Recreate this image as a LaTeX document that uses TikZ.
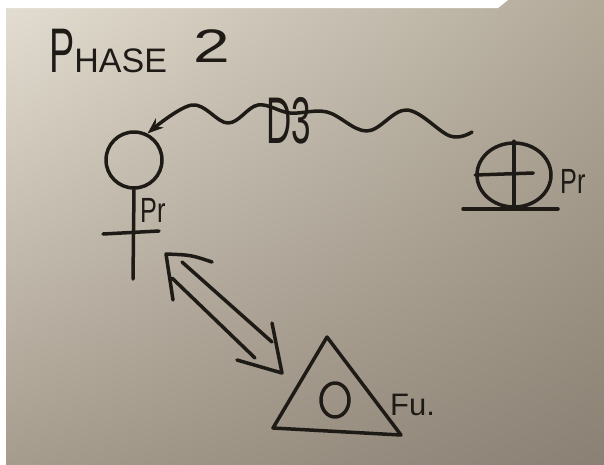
\documentclass[tikz,border=0pt]{standalone}
\usepackage{fontspec}
\setmainfont{Liberation Sans}
\usetikzlibrary{arrows.meta,shapes.geometric,calc,shadings}
\definecolor{ink}{RGB}{30,26,22}
\definecolor{paperUL}{RGB}{228,222,210}
\definecolor{paperUR}{RGB}{178,169,153}
\definecolor{paperLL}{RGB}{166,156,142}
\definecolor{paperLR}{RGB}{138,129,116}
\begin{document}
\begin{tikzpicture}[x=1pt,y=-1pt,
  pen/.style={draw=ink, line width=3.5pt, line cap=round, line join=round},
  lbl/.style={text=ink, inner sep=0pt}]
\useasboundingbox (0,0) rectangle (604,464);
\fill[white] (0,0) rectangle (604,464);
\shade[upper left=paperUL, upper right=paperUR, lower left=paperLL, lower right=paperLR]
  (6,0) rectangle (604,464);
\fill[white] (6,0) -- (508,0) -- (498,8) -- (6,8) -- cycle;

% title
\node[lbl, anchor=base west] (title) at (49,72)
  {{\fontsize{63}{63}\selectfont\scalebox{0.6}[1]{P}}{\fontsize{34}{34}\selectfont HASE}\hspace{26pt}\raisebox{10pt}{\fontsize{47}{47}\selectfont\scalebox{1.4}[1]{2}}};

% left symbol
\node[pen, circle, minimum size=56pt, inner sep=0pt] (venus) at (134,160) {};
\coordinate (vbot) at (133,279);
\draw[pen] (venus.south) -- (vbot);
\coordinate (barL) at (103,234);
\coordinate (barR) at (159,231);
\draw[pen] (barL) -- (barR);
\node[lbl, anchor=base west, font=\fontsize{35}{35}\selectfont] (prL) at (140,222) {\scalebox{0.72}[1]{Pr}};

% right symbol
\node[pen, ellipse, minimum width=74pt, minimum height=64pt, inner sep=0pt] (mars) at (514,175) {};
\draw[pen] (mars.north) -- (mars.south);
\draw[pen] (mars.west) -- ++(58,-2);
\coordinate (baseL) at (463,209);
\coordinate (baseR) at (558,209);
\draw[pen] (baseL) -- (baseR);
\node[lbl, anchor=base west, font=\fontsize{35}{35}\selectfont] (prR) at (560,193) {\scalebox{0.72}[1]{Pr}};

% wavy connector
\coordinate (wend) at (472,132);
\draw[pen, -{Stealth[open, length=16pt, width=12pt, line width=2.5pt]}]
  plot[smooth, tension=0.6] coordinates {(wend) (450,136) (407,110) (367,131) (327,112) (290,113) (258,105) (228,123) (192,105) (venus.63)};
\node[lbl, font=\fontsize{66}{66}\selectfont] (d3) at (289,121) {\scalebox{0.53}[1]{D3}};

% double hollow arrow
\coordinate (dl) at (166,254);
\coordinate (dr) at (282,373);
\draw[pen] ($(dl)+(46,8)$) .. controls ($(dl)+(25,1)$) .. (dl) -- ($(dl)+(7,46)$);
\draw[pen] ($(dl)+(16,8)$) -- ($(dr)+(-10,-31)$);
\draw[pen] ($(dl)+(6,24)$) -- ($(dr)+(-27,-15)$);
\draw[pen] ($(dr)+(-10,-50)$) -- (dr) -- ($(dr)+(-45,-13)$);

% triangle
\coordinate (tA) at (327,337);
\coordinate (tB) at (401,435);
\coordinate (tC) at (273,428);
\draw[pen] (tA) -- (tB) -- (tC) -- cycle;
\node[pen, ellipse, minimum width=28pt, minimum height=34pt, inner sep=0pt] (fuo) at (335,400) {};
\node[lbl, anchor=base west, font=\fontsize{31}{31}\selectfont] (fu) at (390,415) {Fu.};
\end{tikzpicture}
\end{document}
